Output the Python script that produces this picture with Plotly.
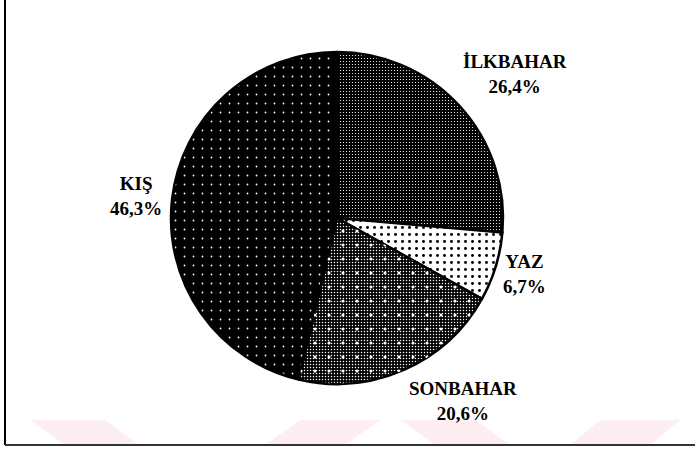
import plotly.graph_objects as go

# ---- data ----
labels = ["İLKBAHAR", "YAZ", "SONBAHAR", "KIŞ"]
values = [26.4, 6.7, 20.6, 46.3]

W, H = 695, 450

def pct_text(v):
    return f"{v:.1f}".replace(".", ",") + "%"

# pie geometry (pixels)
cx, cy, r = 337, 218, 166

def px(x):
    return x / W

def py(y):
    return 1 - y / H

domain = dict(x=[px(cx - r), px(cx + r)], y=[py(cy + r), py(cy - r)])

fig = go.Figure()

# base pie with textures
fig.add_trace(go.Pie(
    labels=labels, values=values, sort=False, direction="clockwise", rotation=0,
    domain=domain, textinfo="none", hoverinfo="label+percent", showlegend=False,
    marker=dict(
        colors=["#000000", "#ffffff", "#000000", "#000000"],
        line=dict(color="black", width=2.5),
        pattern=dict(
            shape=[".", ".", ".", "."],
            fillmode="replace",
            bgcolor=["#000000", "#ffffff", "#000000", "#000000"],
            fgcolor=["#ffffff", "#000000", "#ffffff", "#ffffff"],
            size=[3, 7, 3, 9],
            solidity=[0.13, 0.14, 0.2, 0.03],
        ),
    ),
))

# overlay pie giving SONBAHAR its sparse white marks
fig.add_trace(go.Pie(
    labels=labels, values=values, sort=False, direction="clockwise", rotation=0,
    domain=domain, textinfo="none", hoverinfo="skip", showlegend=False,
    marker=dict(
        colors=["rgba(0,0,0,0)"] * 4,
        line=dict(color="rgba(0,0,0,0)", width=0),
        pattern=dict(
            shape=["", "", ".", ""],
            fillmode="replace",
            bgcolor="rgba(0,0,0,0)",
            fgcolor="#ffffff",
            size=14,
            solidity=0.04,
        ),
    ),
))

# label positions (pixel centers)
label_pos = [(515, 74), (524, 274), (463, 401), (136, 196)]
annotations = []
for lab, v, (x, y) in zip(labels, values, label_pos):
    annotations.append(dict(
        x=px(x), y=py(y), xref="paper", yref="paper",
        xanchor="center", yanchor="middle", showarrow=False,
        text=f"<b>{lab}</b><br><b>{pct_text(v)}</b>",
        font=dict(family="Liberation Serif", size=19, color="black"),
        align="center",
    ))

shapes = []
# faint pink watermark bands at the bottom
pink = "rgba(250,200,210,0.3)"
bands = [
    [(30, 420), (105, 420), (140, 445), (65, 445)],
    [(300, 420), (380, 420), (345, 445), (265, 445)],
    [(400, 420), (475, 420), (510, 445), (435, 445)],
    [(600, 420), (680, 420), (650, 445), (570, 445)],
]
for b in bands:
    path = "M " + " L ".join(f"{px(x)},{py(y)}" for x, y in b) + " Z"
    shapes.append(dict(type="path", xref="paper", yref="paper", path=path,
                       fillcolor=pink, line=dict(width=0), layer="below"))
# frame lines (left and bottom)
shapes.append(dict(type="line", xref="paper", yref="paper",
                   x0=px(5), y0=py(0), x1=px(5), y1=py(445),
                   line=dict(color="black", width=2)))
shapes.append(dict(type="line", xref="paper", yref="paper",
                   x0=px(5), y0=py(445), x1=px(695), y1=py(445),
                   line=dict(color="#333333", width=2)))

fig.update_layout(
    width=W, height=H,
    margin=dict(l=0, r=0, t=0, b=0),
    paper_bgcolor="white", plot_bgcolor="white",
    annotations=annotations, shapes=shapes,
    showlegend=False,
)

fig.write_html("out.html",
               config={"displayModeBar": False},
               post_script="document.body.style.margin='0';document.body.style.padding='0';")
